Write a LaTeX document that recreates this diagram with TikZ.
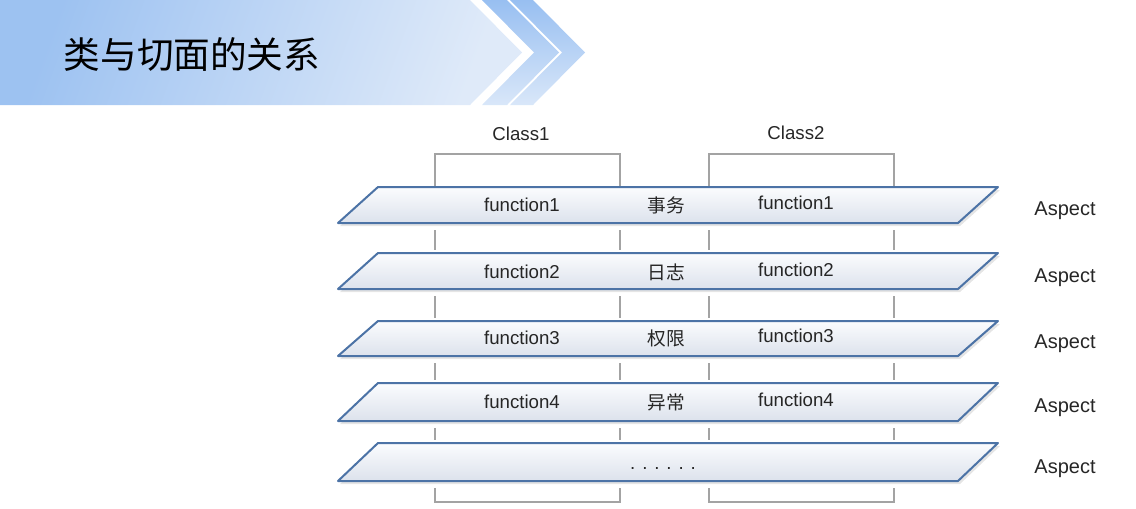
\documentclass[tikz,border=0pt]{standalone}
\usepackage{fontspec}
\setmainfont{Liberation Sans}
\newfontfamily\cjk{Noto Sans CJK SC}

\definecolor{bannerdark}{HTML}{9DC2F1}
\definecolor{bannerlight}{HTML}{DFEAF9}
\definecolor{bandtop}{HTML}{98BFF1}
\definecolor{bandbottom}{HTML}{D9E7F9}
\definecolor{layerline}{HTML}{4C73A6}
\definecolor{layertop}{HTML}{FBFCFE}
\definecolor{layerbottom}{HTML}{DCE2EC}
\definecolor{bracketgray}{HTML}{A3A3A3}
\definecolor{textgray}{HTML}{262626}

\tikzset{
  layer/.style={draw=layerline, line width=1.5pt, line join=round, top color=layertop, bottom color=layerbottom},
  layershadow/.style={fill=black!10},
  bracket/.style={draw=bracketgray, line width=1.2pt},
  titletext/.style={font=\cjk\fontsize{27.5pt}{30pt}\selectfont, text=black, inner sep=0pt},
  fntext/.style={font=\fontsize{14pt}{16pt}\selectfont, text=textgray, inner sep=0pt},
  cjktext/.style={font=\cjk\fontsize{14pt}{16pt}\selectfont, text=textgray, inner sep=0pt},
  aspect/.style={font=\fontsize{15pt}{18pt}\selectfont, text=textgray, inner sep=0pt},
}

\begin{document}
\begin{tikzpicture}[x=0.75pt, y=-0.75pt]
    \useasboundingbox (0,0) rectangle (1136,508);

    % Title banner
    \shade[top color=bannerdark, bottom color=bannerlight, shading angle=70]
        (0,0) -- (470,0) -- (522,52.5) -- (470,105) -- (0,105) -- cycle;
    \shade[top color=bandtop, bottom color=bandbottom]
        (482,0) -- (507,0) -- (559,52.5) -- (507,105) -- (482,105) -- (534,52.5) -- cycle;
    \shade[top color=bandtop, bottom color=bandbottom]
        (510,0) -- (533,0) -- (585,52.5) -- (533,105) -- (510,105) -- (562,52.5) -- cycle;
    \node[titletext] (title) at (192,54) {类与切面的关系};

    % Class brackets
    \node[fntext] (class1) at (521,134) {Class1};
    \node[fntext] (class2) at (796,133) {Class2};
    \draw[bracket] (435,186) -- (435,154) -- (620,154) -- (620,186);
    \draw[bracket] (709,186) -- (709,154) -- (894,154) -- (894,186);
    \foreach \x in {435,620,709,894} {
        \foreach \ya/\yb in {230/250, 296/318, 363/380, 428/440}
            \draw[bracket] (\x,\ya) -- (\x,\yb);
    }
    \draw[bracket] (435,488) -- (435,502) -- (620,502) -- (620,488);
    \draw[bracket] (709,488) -- (709,502) -- (894,502) -- (894,488);

    % Aspect layers
    \foreach \ya/\yb in {187/223, 253/289, 321/356, 383/421, 443/481} {
        \fill[layershadow] (340,\yb+3) -- (380,\ya+3) -- (1000,\ya+3) -- (960,\yb+3) -- cycle;
        \shadedraw[layer] (338,\yb) -- (378,\ya) -- (998,\ya) -- (958,\yb) -- cycle;
    }

    % Functions and concerns
    \foreach \y/\n/\c in {205/1/事务, 272/2/日志, 338/3/权限, 402/4/异常} {
        \node[fntext] (fa\n) at (522,\y) {function\n};
        \node[cjktext] (concern\n) at (666,\y) {\c};
        \node[fntext] (fb\n) at (796,\y-2) {function\n};
    }
    \node[fntext, anchor=base] (dots) at (663,469) {. . . . . .};

    \foreach \y/\n in {211/1, 278/2, 344/3, 408/4, 469/5}
        \node[aspect] (aspect\n) at (1065,\y) {Aspect};
\end{tikzpicture}
\end{document}
